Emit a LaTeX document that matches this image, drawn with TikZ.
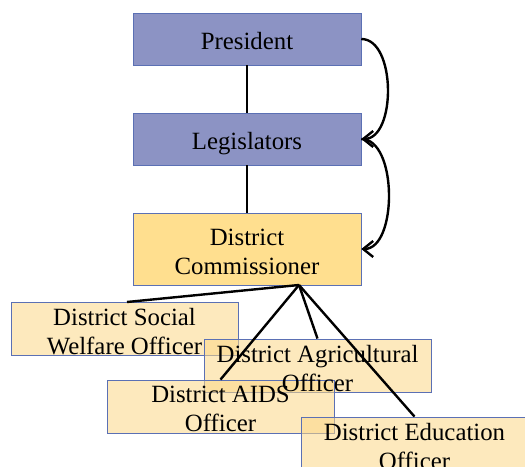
\documentclass[tikz,border=0pt]{standalone}
\usepackage{fontspec}
\setmainfont{Liberation Serif}
\usepackage{tikz}
\usetikzlibrary{arrows.meta}
\usepackage{xcolor}
\definecolor{bleu}{HTML}{8C93C4}
\definecolor{bord}{HTML}{5B70B4}
\definecolor{jaune}{HTML}{FFDF8F}
\definecolor{orange}{HTML}{FBD889}

\begin{document}
\begin{tikzpicture}[x=0.75pt,y=-0.75pt]
% Les styles des boîtes
\tikzstyle{fleche}=[-{Straight Barb[length=7.5pt,width=12pt]},line width=1.8pt]
\tikzstyle{lien}=[line width=1.8pt]
\tikzstyle{boite}=[draw=bord,rectangle,minimum width=171pt,inner sep=0pt]
\tikzstyle{chef}=[boite,fill=bleu,minimum height=39pt,text height=15.5pt,text depth=0pt]
\tikzstyle{officier}=[boite,fill=orange,fill opacity=0.56,minimum width=170pt,minimum height=40pt]
\tikzstyle{texte}=[align=center,font=\fontsize{18.6}{21.8}\selectfont]

\useasboundingbox (0,0) rectangle (525,467);

% La hiérarchie en haut
\node[chef,texte] (pres) at (247,39) {President};
\node[chef,texte] (leg) at (247,139) {Legislators};
\node[boite,fill=jaune,minimum height=54pt,texte] (dc) at (247,249) {};
\node[texte,yshift=-2.5pt] at (dc) {District\\Commissioner};

\draw[lien] (pres) -- (leg);
\draw[lien] (leg) -- (dc);

% Les flèches courbées à droite
\draw[fleche] (pres.east) to[out=0,in=0,looseness=0.9] (leg.east);
\draw[fleche] (leg.east) to[out=0,in=0,looseness=0.85] (dc.east);

% Les officiers du district
\foreach \x/\y/\nom in {124.5/328.5/social, 317.5/365.5/agri,
                        220.5/406.5/aids, 414.5/443.5/educ}{
    \node[officier] (\nom) at (\x,\y) {};
}

\coordinate (pied) at (299,285);
\draw[lien] (pied) -- (127,302);
\draw[lien] (pied) -- (agri.north);
\draw[lien] (pied) -- (aids.north);
\draw[lien] (pied) -- (educ.north);

\node[texte,yshift=-2pt] at (social) {District Social\\Welfare Officer};
\node[texte,yshift=-2pt] at (agri) {District Agricultural\\Officer};
\node[texte,yshift=-2pt] at (aids) {District AIDS\\Officer};
\node[texte,yshift=-2pt] at (educ) {District Education\\Officer};
\end{tikzpicture}
\end{document}
